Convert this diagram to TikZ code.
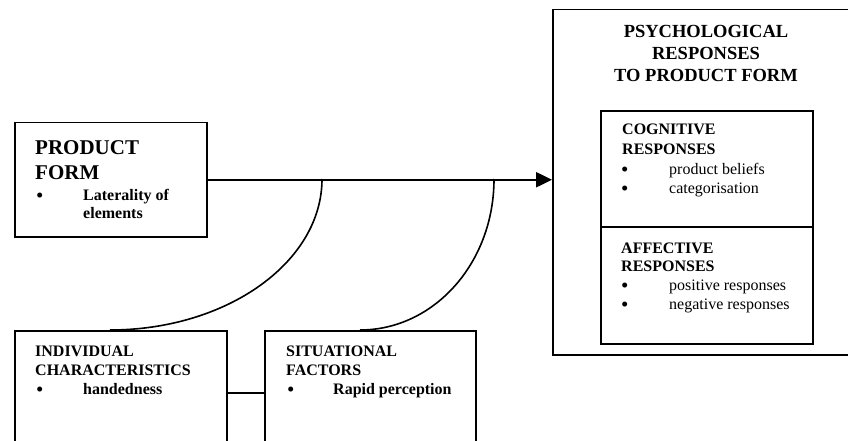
\documentclass[tikz,border=0pt]{standalone}
\usepackage{fontspec}
\setmainfont{Liberation Serif}
\usetikzlibrary{arrows.meta}
\newcommand{\fbig}{\fontsize{21}{25}\selectfont\bfseries}
\newcommand{\ftitle}{\fontsize{18.5}{22}\selectfont\bfseries}
\newcommand{\fmid}{\fontsize{16}{19}\selectfont\bfseries}
\newcommand{\freg}{\fontsize{16}{19}\selectfont}
\newcommand{\fbul}{\fontsize{21}{19}\selectfont}
\tikzset{
  box/.style={draw, line width=1.5pt, rectangle, inner sep=0pt, anchor=north west},
  inbox/.style={draw, line width=2.2pt, rectangle, inner sep=0pt, anchor=north west},
  txt/.style={anchor=base west, inner sep=0pt},
  bul/.style={anchor=base west, inner sep=0pt, font=\fbul, yshift=-2.5pt},
  ctxt/.style={anchor=base, inner sep=0pt, font=\ftitle},
  curveline/.style={line width=1.6pt},
  mainarrow/.style={line width=2.5pt, -{Triangle[length=16pt,width=15pt]}}
}
\begin{document}
\begin{tikzpicture}[x=1pt,y=-1pt]
\clip (0,0) rectangle (848,441);
% boxes
\node[box, minimum width=192pt, minimum height=114pt] (pf) at (14,122) {};
\node[box, minimum width=308pt, minimum height=345pt] (big) at (552,9) {};
\node[inbox, minimum width=212pt, minimum height=116pt] (cog) at (600,110) {};
\node[inbox, minimum width=212pt, minimum height=117pt] (aff) at (600,226) {};
\node[box, minimum width=212pt, minimum height=124pt] (ind) at (14,330) {};
\node[box, minimum width=211pt, minimum height=124pt] (sit) at (264,330) {};
% product form text
\node[txt, font=\fbig] (pf1) at (35,154) {PRODUCT};
\node[txt, font=\fbig] (pf2) at (35,179) {FORM};
\node[bul] (pfb) at (36,200) {\textbullet};
\node[txt, font=\fmid] (pf3) at (83,200) {Laterality of};
\node[txt, font=\fmid] (pf4) at (83,218) {elements};
% big title
\node[ctxt] (t1) at (706,38) {PSYCHOLOGICAL};
\node[ctxt] (t2) at (706,60) {RESPONSES};
\node[ctxt] (t3) at (706,82) {TO PRODUCT FORM};
% cognitive
\node[txt, font=\fmid] (c1t) at (622,135) {COGNITIVE};
\node[txt, font=\fmid] (c2t) at (622,154) {RESPONSES};
\node[bul] (cb1) at (621,174) {\textbullet};
\node[txt, font=\freg] (c3t) at (669,174) {product beliefs};
\node[bul] (cb2) at (621,193) {\textbullet};
\node[txt, font=\freg] (c4t) at (669,193) {categorisation};
% affective
\node[txt, font=\fmid] (a1t) at (621,253) {AFFECTIVE};
\node[txt, font=\fmid] (a2t) at (621,271) {RESPONSES};
\node[bul] (ab1) at (621,290) {\textbullet};
\node[txt, font=\freg] (a3t) at (669,290) {positive responses};
\node[bul] (ab2) at (621,309) {\textbullet};
\node[txt, font=\freg] (a4t) at (669,309) {negative responses};
% individual
\node[txt, font=\fmid] (i1t) at (35,356) {INDIVIDUAL};
\node[txt, font=\fmid] (i2t) at (35,375) {CHARACTERISTICS};
\node[bul] (ib) at (36,394) {\textbullet};
\node[txt, font=\fmid] (i3t) at (83,394) {handedness};
% situational
\node[txt, font=\fmid] (s1t) at (286,356) {SITUATIONAL};
\node[txt, font=\fmid] (s2t) at (286,375) {FACTORS};
\node[bul] (sb) at (287,394) {\textbullet};
\node[txt, font=\fmid] (s3t) at (333,394) {Rapid perception};
% main arrow
\coordinate (tip) at (big.west |- pf.east);
\draw[mainarrow] (pf.east) -- (tip);
% curves
\coordinate (k1) at (322,179);
\coordinate (e1) at (110,330);
\coordinate (k2) at (494,179);
\coordinate (e2) at (360,330);
\draw[curveline] (k1) .. controls (322,262) and (227,330) .. (e1);
\draw[curveline] (k2) .. controls (494,263) and (434,330) .. (e2);
% connector between bottom boxes
\draw[line width=2pt] (ind.east) -- (sit.west);
\end{tikzpicture}
\end{document}
